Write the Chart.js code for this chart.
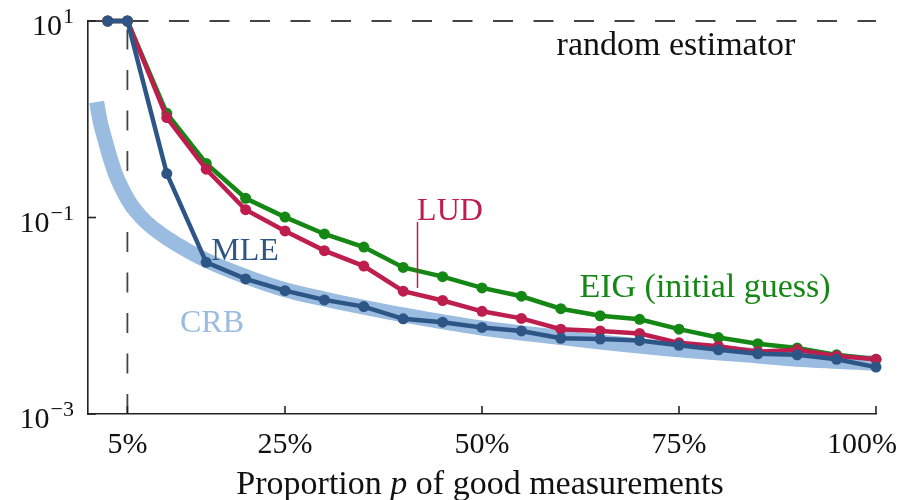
<!DOCTYPE html>
<html>
<head>
<meta charset="utf-8">
<script src="https://cdn.jsdelivr.net/npm/chart.js@4.4.1/dist/chart.umd.min.js"></script>
<style>
  html, body { margin: 0; padding: 0; background: #fff; }
  #wrap { width: 900px; height: 500px; position: relative; }
</style>
</head>
<body>
<div id="wrap"><canvas id="graph"></canvas></div>
<script>
// proportion p of good measurements (%)
const proportions = [2.5, 5, 10, 15, 20, 25, 30, 35, 40, 45, 50, 55, 60, 65, 70, 75, 80, 85, 90, 95, 100];

// error of each estimator
const mle = [10, 10, 0.28, 0.035, 0.0237, 0.018, 0.0145, 0.0124, 0.0093, 0.0086, 0.0076, 0.0070, 0.0059, 0.0058, 0.0056, 0.0050, 0.0045, 0.0041, 0.0040, 0.0036, 0.0030];
const lud = [10, 10, 1.04, 0.31, 0.12, 0.073, 0.046, 0.032, 0.0178, 0.0143, 0.0111, 0.0094, 0.0073, 0.0070, 0.0066, 0.0053, 0.0049, 0.0043, 0.0045, 0.0039, 0.0036];
const eig = [10, 10, 1.15, 0.355, 0.157, 0.101, 0.068, 0.050, 0.031, 0.025, 0.0192, 0.0158, 0.0118, 0.0100, 0.0092, 0.0073, 0.0060, 0.0052, 0.0047, 0.0040, 0.0036];

// Cramer-Rao bound
const crbP = [1.1, 1.5, 2.2, 3, 3.5, 4.2, 5, 6, 7.5, 10, 15, 20, 25, 30, 35, 40, 50, 60, 65, 75, 85, 90, 100];
const crb = [1.5, 0.99, 0.60, 0.36, 0.275, 0.205, 0.155, 0.118, 0.088, 0.062, 0.0367, 0.0251, 0.0184, 0.0148, 0.0122, 0.0102, 0.0075, 0.0060, 0.0054, 0.0045, 0.0039, 0.0036, 0.0033];

const randomLevel = 10;
const cutoff = 5;
const xTicks = [5, 25, 50, 75, 100];
const xTickLabels = ['5%', '25%', '50%', '75%', '100%'];
const yTicks = [1e1, 1e-1, 1e-3];
const yTickExps = ['1', '\u22121', '\u22123'];

const pts = (xs, ys) => xs.map((v, i) => ({ x: v, y: ys[i] }));

const SERIF = '"Liberation Serif", "DejaVu Serif", serif';
const C_MLE = '#2D5686';
const C_LUD = '#BE1E4D';
const C_EIG = '#158715';
const C_CRB = '#9ABCE0';

// lignes pointillées, graduations et textes
const annotate = {
    id: 'annotate',
    beforeDatasetsDraw(chart) {
        const { ctx, chartArea: a, scales: { x, y } } = chart;
        ctx.save();
        ctx.strokeStyle = '#444';
        ctx.lineWidth = 1.8;
        ctx.setLineDash([20, 20.5]);
        const yr = y.getPixelForValue(randomLevel);
        ctx.beginPath();
        ctx.moveTo(a.left, yr);
        ctx.lineTo(a.right, yr);
        ctx.stroke();
        const xv = x.getPixelForValue(cutoff);
        ctx.beginPath();
        ctx.moveTo(xv, a.bottom);
        ctx.lineTo(xv, a.top);
        ctx.stroke();
        ctx.restore();
    },
    afterDraw(chart) {
        const { ctx, chartArea: a, scales: { x, y } } = chart;
        ctx.save();
        ctx.strokeStyle = '#222';
        ctx.lineWidth = 1.6;
        xTicks.forEach(t => {
            const px = x.getPixelForValue(t);
            ctx.beginPath();
            ctx.moveTo(px, a.bottom);
            ctx.lineTo(px, a.bottom - 8);
            ctx.stroke();
        });
        yTicks.forEach(t => {
            const py = y.getPixelForValue(t);
            ctx.beginPath();
            ctx.moveTo(a.left, py);
            ctx.lineTo(a.left + 8, py);
            ctx.stroke();
        });

        ctx.fillStyle = '#111';
        ctx.textBaseline = 'alphabetic';
        ctx.font = '30px ' + SERIF;
        ctx.textAlign = 'left';
        xTicks.forEach((t, i) => {
            const w = ctx.measureText(xTickLabels[i]).width;
            let lx = x.getPixelForValue(t) - w / 2;
            if (lx + w > 897) lx = 897 - w;
            ctx.fillText(xTickLabels[i], lx, 453);
        });

        // 10^k labels
        yTicks.forEach((t, i) => {
            const py = y.getPixelForValue(t);
            ctx.font = '30px ' + SERIF;
            const wb = ctx.measureText('10').width;
            ctx.font = '22px ' + SERIF;
            const we = ctx.measureText(yTickExps[i]).width;
            const x0 = a.left - 14 - wb - we - 1;
            ctx.font = '30px ' + SERIF;
            ctx.fillText('10', x0, py + 14);
            ctx.font = '22px ' + SERIF;
            ctx.fillText(yTickExps[i], x0 + wb + 1, py + 2);
        });

        // axis title with italic p
        const parts = [['Proportion ', ''], ['p', 'italic '], [' of good measurements', '']];
        let total = 0;
        parts.forEach(p => { ctx.font = p[1] + '34px ' + SERIF; total += ctx.measureText(p[0]).width; });
        let cx = 480 - total / 2;
        parts.forEach(p => {
            ctx.font = p[1] + '34px ' + SERIF;
            ctx.fillText(p[0], cx, 494);
            cx += ctx.measureText(p[0]).width;
        });

        ctx.textAlign = 'center';
        ctx.font = '34px ' + SERIF;
        ctx.fillText('random estimator', 676, 55);
        ctx.fillStyle = C_EIG;
        ctx.fillText('EIG (initial guess)', 705, 297);
        ctx.font = '32px ' + SERIF;
        ctx.fillStyle = C_MLE;
        ctx.fillText('MLE', 245, 260);
        ctx.fillStyle = C_CRB;
        ctx.fillText('CRB', 212, 332);
        ctx.fillStyle = C_LUD;
        ctx.fillText('LUD', 450, 220);

        // LUD pointer
        ctx.strokeStyle = C_LUD;
        ctx.lineWidth = 1.5;
        ctx.beginPath();
        ctx.moveTo(417.5, 222);
        ctx.lineTo(417.5, 288);
        ctx.stroke();
        ctx.restore();
    }
};

const serie = (label, data, color) => ({
    label: label,
    data: data,
    borderColor: color,
    backgroundColor: color,
    borderWidth: 4.5,
    pointRadius: 5.5,
    pointBorderWidth: 0,
    pointBackgroundColor: color,
    clip: false
});

new Chart(document.getElementById('graph'), {
    type: 'line',
    data: {
        datasets: [
            serie('MLE', pts(proportions, mle), C_MLE),
            serie('LUD', pts(proportions, lud), C_LUD),
            serie('EIG (initial guess)', pts(proportions, eig), C_EIG),
            {
                label: 'CRB',
                data: pts(crbP, crb),
                borderColor: C_CRB,
                borderWidth: 15,
                pointRadius: 0,
                cubicInterpolationMode: 'monotone',
                clip: false
            }
        ]
    },
    options: {
        responsive: true,
        maintainAspectRatio: false,
        animation: false,
        events: [],
        layout: { padding: { left: 88, right: 24, top: 21, bottom: 86 } },
        plugins: {
            legend: { display: false },
            tooltip: { enabled: false }
        },
        scales: {
            x: {
                type: 'linear',
                min: 0,
                max: 100,
                grid: { display: false, drawTicks: false },
                ticks: { display: false },
                border: { display: true, color: '#222', width: 1.6 }
            },
            y: {
                type: 'logarithmic',
                min: 1e-3,
                max: 10,
                grid: { display: false, drawTicks: false },
                ticks: { display: false },
                border: { display: true, color: '#222', width: 1.6 }
            }
        }
    },
    plugins: [annotate]
});
</script>
</body>
</html>
